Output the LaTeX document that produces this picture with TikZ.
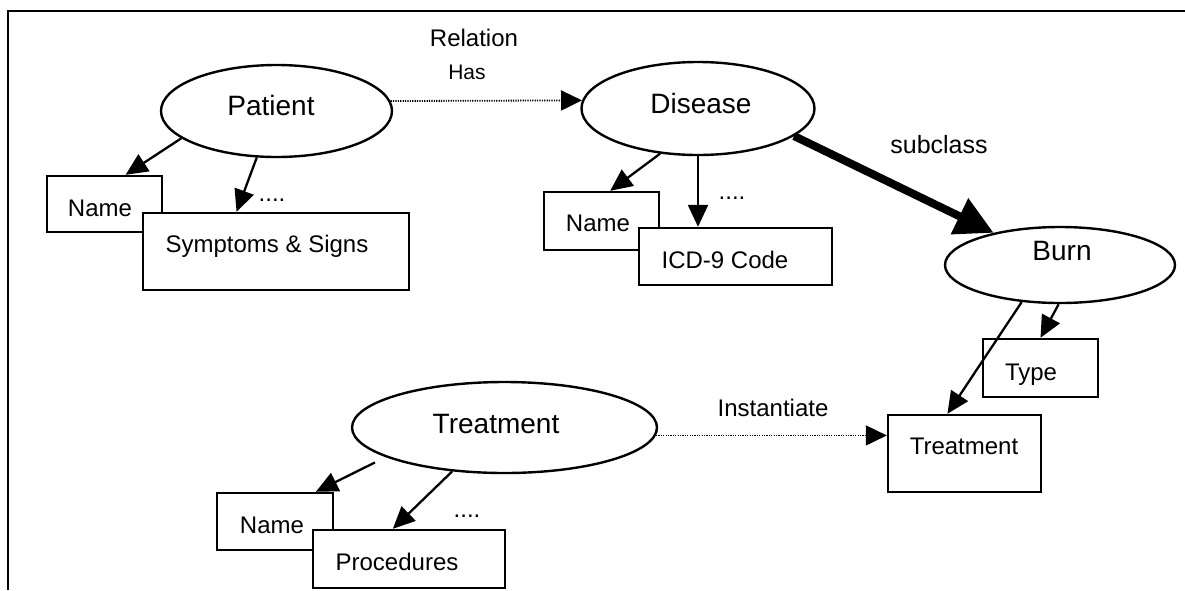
\documentclass[tikz,border=0pt]{standalone}
\usepackage{fontspec}
\setmainfont{Liberation Sans}
\usetikzlibrary{arrows.meta,calc,shapes.geometric}
\begin{document}
\begin{tikzpicture}[x=1pt,y=-1pt,
  ent/.style={ellipse,draw,line width=2.4pt,inner sep=0pt,fill=white},
  attr/.style={rectangle,draw,line width=2.4pt,inner sep=0pt,fill=white},
  bigtxt/.style={font=\fontsize{28}{28}\selectfont,inner sep=0pt,text height=0.716em,text depth=0pt},
  boxtxt/.style={font=\fontsize{24}{24}\selectfont,inner sep=0pt,text height=0.716em,text depth=0pt},
  lbl/.style={font=\fontsize{24}{24}\selectfont,inner sep=0pt,text height=0.716em,text depth=0pt},
  dots/.style={font=\fontsize{24}{24}\selectfont,inner sep=0pt,anchor=base},
  arr/.style={line width=2.3pt,-{Triangle[length=22pt,width=20pt]}},
  rel/.style={line width=1.8pt,dash pattern=on 1.2pt off 1.2pt,-{Triangle[length=21pt,width=20pt]}},
  thick arr/.style={line width=8pt,-{Triangle[length=38pt,width=38pt]}}
]
\useasboundingbox (0,0) rectangle (1185,590);
\fill[white] (0,0) rectangle (1185,590);
% frame
\draw[line width=2.6pt] (8,590) -- (8,11) -- (1185,11);

% ellipses
\node[ent,minimum width=231pt,minimum height=92pt] (Patient) at (276.5,111) {};
\node[ent,minimum width=233pt,minimum height=93pt] (Disease) at (698,108.5) {};
\node[ent,minimum width=230pt,minimum height=76pt] (Burn) at (1060,265) {};
\node[ent,minimum width=305pt,minimum height=91pt] (Treat) at (504.5,427.5) {};
\node[bigtxt] (tPatient) at (271,112) {Patient};
\node[bigtxt] (tDisease) at (701,110) {Disease};
\node[bigtxt] (tBurn) at (1062,257) {Burn};
\node[bigtxt] (tTreat) at (496,430) {Treatment};

% boxes
\node[attr,minimum width=115pt,minimum height=56pt] (pname) at (104.5,204) {};
\node[boxtxt] (tpname) at (100,213) {Name};
\node[attr,minimum width=266pt,minimum height=77pt] (symp) at (276,251.5) {};
\node[boxtxt] (tsymp) at (267,249) {Symptoms \& Signs};

\node[attr,minimum width=115pt,minimum height=58pt] (dname) at (601.5,221) {};
\node[boxtxt] (tdname) at (598,228) {Name};
\node[attr,minimum width=193pt,minimum height=57pt] (icd) at (735.5,256.5) {};
\node[boxtxt] (ticd) at (725,265) {ICD-9 Code};

\node[attr,minimum width=115pt,minimum height=58pt] (type) at (1040.5,368) {};
\node[boxtxt] (ttype) at (1031,377) {Type};
\node[attr,minimum width=153pt,minimum height=77pt] (tbox) at (964.5,453.5) {};
\node[boxtxt] (ttbox) at (964,451) {Treatment};

\node[attr,minimum width=116pt,minimum height=57pt] (tname) at (275,521.5) {};
\node[boxtxt] (ttname) at (272,530) {Name};
\node[attr,minimum width=192pt,minimum height=58pt] (proc) at (409,559) {};
\node[boxtxt] (tproc) at (397,567) {Procedures};

% labels
\node[lbl] (lrelation) at (474,43) {Relation};
\node[lbl,font=\fontsize{21}{21}\selectfont] (lhas) at (467,76) {Has};
\node[lbl,font=\fontsize{25}{25}\selectfont] (lsub) at (939,150) {subclass};
\node[lbl] (linst) at (773,413) {Instantiate};
\node[dots] (d1) at (272,201) {....};
\node[dots] (d2) at (732,199) {....};
\node[dots] (d3) at (467,517) {....};

% connectors
\draw[arr] (Patient.196) -- ($(pname.north west)!0.68!(pname.north east)$);
\draw[arr] (Patient.247.5) -- ($(symp.north west)!0.353!(symp.north east)$);
\draw[rel] (Patient.5.6) -- (Disease.176);
\draw[arr] (Disease.230) -- ($(dname.north west)!0.574!(dname.north east)$);
\draw[arr] (Disease.south) -- (Disease.south |- icd.north);
\draw[thick arr] (Disease.344) -- (Burn);
\draw[arr] (Burn.268) -- (type.north);
\draw[arr] (Burn.224) -- ($(tbox.north west)!0.39!(tbox.north east)$);
\draw[rel] (Treat.357) -- (Treat.357 -| tbox.west);
\draw[arr,shorten <=12pt] (Treat.194) -- ($(tname.north west)!0.845!(tname.north east)$);
\draw[arr] (Treat.220) -- ($(proc.north west)!0.417!(proc.north east)$);
\end{tikzpicture}
\end{document}
